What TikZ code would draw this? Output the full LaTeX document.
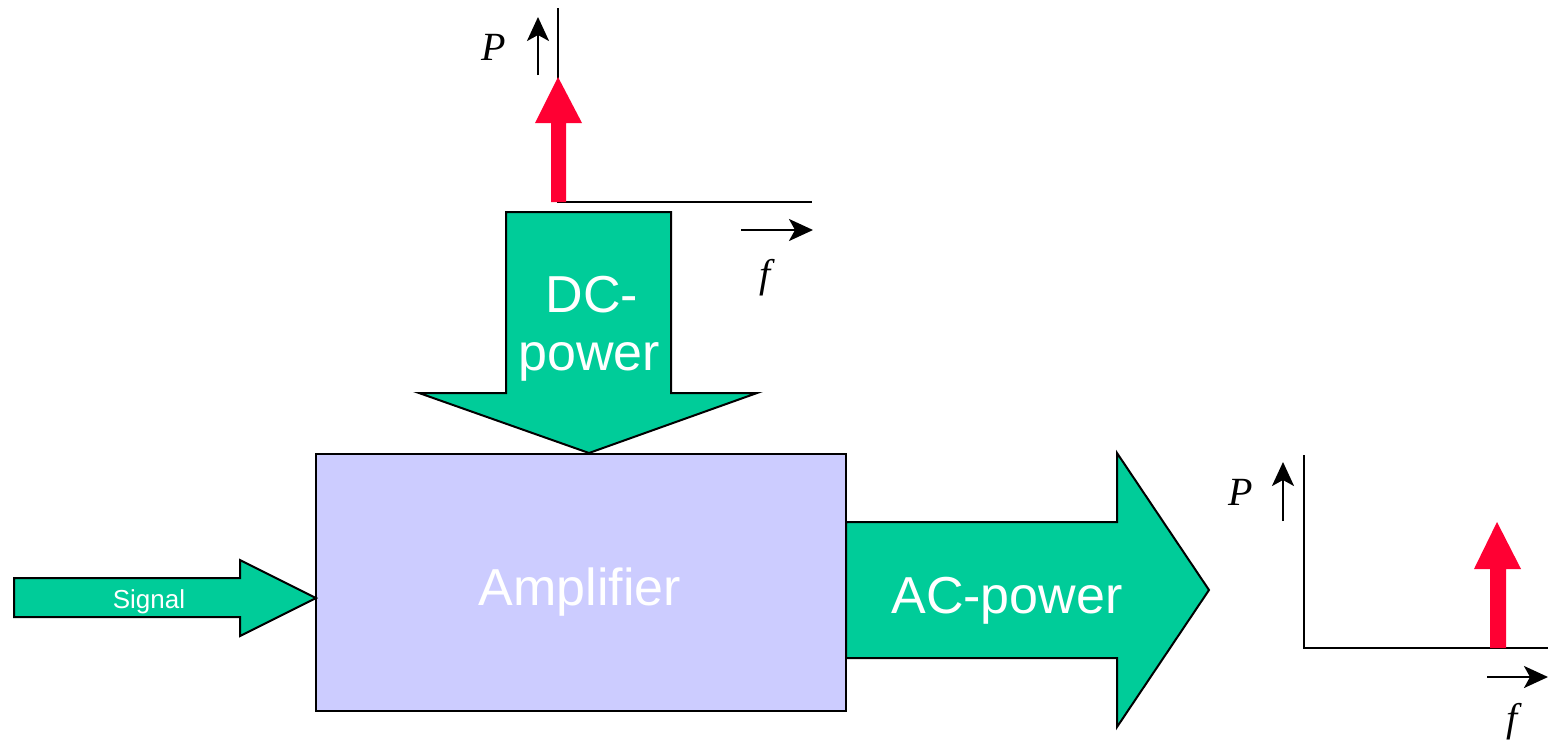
\documentclass[tikz,border=0pt]{standalone}
\usepackage{fontspec}
\setmainfont{Liberation Serif}
\setsansfont{Liberation Sans}
\usetikzlibrary{arrows.meta,positioning}
\definecolor{powgreen}{HTML}{00CC99}
\definecolor{amplilac}{HTML}{CCCCFF}
\definecolor{specred}{HTML}{FF0033}
\tikzset{
    every node/.style={font=\sffamily},
    powarrow/.style={draw=black,line width=1pt,fill=powgreen,line join=miter},
    ampbox/.style={draw=black,line width=1pt,fill=amplilac,inner sep=0pt},
    bigtext/.style={text=white,font=\sffamily\fontsize{26}{30}\selectfont,anchor=base,inner sep=0pt},
    smalltext/.style={text=white,font=\sffamily\fontsize{13}{15}\selectfont,anchor=base,inner sep=0pt},
    axisline/.style={line width=1.3pt},
    axisarrow/.style={line width=1.2pt,-{Stealth[length=12pt,width=11pt,inset=3pt]}},
    axislabel/.style={font=\rmfamily\itshape\fontsize{20}{24}\selectfont,anchor=base,inner sep=0pt},
    spike/.style={fill=specred,draw=none}
}

\begin{document}
\begin{tikzpicture}[x=0.5pt,y=-0.5pt]
\useasboundingbox (0,0) rectangle (1548,740);

% amplifier block
\node[ampbox,minimum width=265pt,minimum height=128.5pt] (amp) at (581,582.5) {};
\node[bigtext] (amplabel) at (580,605) {Amplifier};

% power and signal arrows
\draw[powarrow] (14,578) -- (240,578) -- (240,560) -- (316,598)
    -- (240,636) -- (240,617) -- (14,617) -- cycle;
\node[smalltext] (siglabel) at (149,608) {Signal};
\draw[powarrow] (506,212) -- (671,212) -- (671,393) -- (757,393)
    -- (589,453) -- (419,393) -- (506,393) -- cycle;
\node[bigtext] (dcline1) at (592,312) {DC-};
\node[bigtext] (dcline2) at (589,370) {power};
\draw[powarrow] (846,522) -- (1117,522) -- (1117,453) -- (1209,590)
    -- (1117,727) -- (1117,658) -- (846,658) -- cycle;
\node[bigtext] (aclabel) at (1007,613) {AC-power};

% spectrum of the DC supply
\coordinate (dctop) at (558,8);
\coordinate (dcend) at (812,202);
\draw[axisline] (dctop) |- (dcend);
\fill[spike] (551,202) -- (551,123) -- (535,123) -- (558,77)
    -- (582,123) -- (566,123) -- (566,202) -- cycle;
\coordinate (dcpfrom) at (538,75);
\coordinate (dcpto) at (538,17);
\draw[axisarrow] (dcpfrom) -- (dcpto);
\node[axislabel] (dcp) at (494,60) {P};
\coordinate (dcffrom) at (741,230);
\coordinate (dcfto) at (813,230);
\draw[axisarrow] (dcffrom) -- (dcfto);
\node[axislabel] (dcf) at (765,287) {f};

% spectrum of the output
\coordinate (actop) at (1304,455);
\coordinate (acend) at (1548,648);
\draw[axisline] (actop) |- (acend);
\fill[spike] (1490,648) -- (1490,569) -- (1474,569) -- (1497,522)
    -- (1521,569) -- (1506,569) -- (1506,648) -- cycle;
\coordinate (acpfrom) at (1283,521);
\coordinate (acpto) at (1283,462);
\draw[axisarrow] (acpfrom) -- (acpto);
\node[axislabel] (acp) at (1241,505) {P};
\coordinate (acffrom) at (1487,677);
\coordinate (acfto) at (1548,677);
\draw[axisarrow] (acffrom) -- (acfto);
\node[axislabel] (acf) at (1512,731) {f};
\end{tikzpicture}
\end{document}
